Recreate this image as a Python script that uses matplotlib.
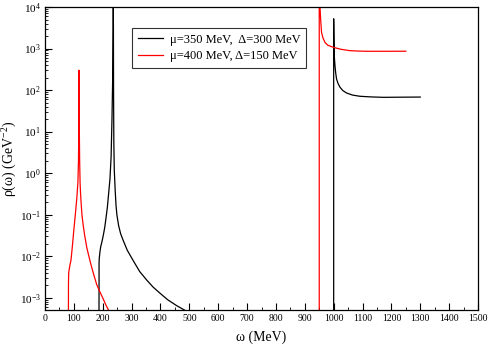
import matplotlib
matplotlib.use("Agg")
import matplotlib.pyplot as plt
from matplotlib.ticker import LogLocator, MultipleLocator, LogFormatterMathtext, NullFormatter
import numpy as np

plt.rcParams['font.family'] = ['Liberation Serif', 'DejaVu Serif']
plt.rcParams['mathtext.fontset'] = 'custom'
plt.rcParams['mathtext.rm'] = 'Liberation Serif'
plt.rcParams['mathtext.it'] = 'Liberation Serif:italic'

#   mu=350 MeV, Delta=300 MeV (black): low branch + threshold branch
w_b1 = [187, 187.3, 188, 190.5, 193, 197, 202, 207, 211, 216, 220, 225, 229, 232,
        234.5, 236, 236.5, 237, 237.5, 238.5, 240, 243, 246, 249, 255, 262, 271, 285,
        305, 328, 352, 375, 398, 425, 456, 485, 500]
r_b1 = [1e-4, 7.0e-3, 9.0e-3, 1.3e-2, 1.7e-2, 2.2e-2, 3.2e-2, 5.0e-2, 8.0e-2, 0.15,
        0.3, 0.72, 2.5, 20, 200, 3000, 3e4, 3000, 100, 5, 1.2, 0.4, 0.17, 0.1, 0.055,
        0.035, 0.024, 0.014, 8.0e-3, 4.3e-3, 2.7e-3, 1.8e-3, 1.3e-3, 9.0e-4, 6.5e-4,
        5.0e-4, 4.0e-4]
w_b2 = [1000, 1000, 1001, 1002, 1004.5, 1007, 1010, 1015, 1022, 1032, 1045, 1065,
        1091, 1130, 1172, 1230, 1300]
r_b2 = [1e-4, 5200, 1500, 680, 390, 260, 185, 145, 117, 97, 85, 76,
        71, 68.5, 67, 67.5, 68]

#   mu=400 MeV, Delta=150 MeV (red)
w_r1 = [81, 81.3, 82, 86, 90, 95, 100, 105, 110, 114, 116, 117, 117.7, 118,
        118.3, 119, 120, 121.5, 123, 125, 128, 132, 138, 145, 152, 160, 169, 179,
        190, 202, 212, 222]
r_r1 = [1e-4, 2.0e-3, 4.0e-3, 6.0e-3, 8.0e-3, 1.8e-2, 4.4e-2, 0.1, 0.24, 0.6, 2,
        10, 100, 300, 100, 10, 2, 0.6, 0.35, 0.2, 0.1, 0.058, 0.03, 0.016, 0.01,
        6.0e-3, 3.6e-3, 2.1e-3, 1.4e-3, 9.3e-4, 6.5e-4, 4.8e-4]
w_r2 = [950, 950, 952, 955, 958, 963, 970, 980, 999, 1025, 1056, 1085, 1114, 1180, 1250]
r_r2 = [1e-4, 2e5, 1.2e4, 4900, 2450, 1800, 1400, 1200, 1070, 960, 890, 870, 860, 860, 862]

labels = ['\u03bc=350 MeV,  \u0394=300 MeV', '\u03bc=400 MeV, \u0394=150 MeV']

fig = plt.figure(figsize=(4.91, 3.53), dpi=100)
ax = fig.add_axes([45/491, 1 - 310/353, 433/491, 303/353])

ax.plot(w_b1, r_b1, color='black', lw=0.9, label=labels[0])
ax.plot(w_b2, r_b2, color='black', lw=0.9)
ax.plot(w_r1, r_r1, color='red', lw=0.9, label=labels[1])
ax.plot(w_r2, r_r2, color='red', lw=0.9)

ax.set_yscale('log')
ax.set_xlim(0, 1500)
ax.set_ylim(5.1e-4, 1e4)
ax.xaxis.set_major_locator(MultipleLocator(100))
ax.xaxis.set_minor_locator(MultipleLocator(50))
ax.yaxis.set_major_locator(LogLocator(base=10, numticks=20))
ax.yaxis.set_minor_locator(LogLocator(base=10, subs=np.arange(2, 10), numticks=20))
ax.yaxis.set_major_formatter(LogFormatterMathtext())
ax.yaxis.set_minor_formatter(NullFormatter())
ax.tick_params(which='both', direction='in', top=False, right=False)
ax.tick_params(which='major', length=5, width=0.8)
ax.tick_params(which='minor', length=2.5, width=0.6)
ax.tick_params(axis='x', labelsize=7, pad=3)
ax.tick_params(axis='y', labelsize=8, pad=3)
for s in ax.spines.values():
    s.set_linewidth(0.9)

ax.set_xlabel('\u03c9 (MeV)', fontsize=10, labelpad=5)
ax.set_ylabel('\u03c1(\u03c9) (GeV$^{-2}$)', fontsize=10)
ax.yaxis.set_label_coords(-0.060, 0.5)

leg = ax.legend(loc='upper left', bbox_to_anchor=(0.201, 0.931), borderaxespad=0,
                fontsize=9, frameon=True, fancybox=False, handlelength=2.0,
                labelspacing=0.35, borderpad=0.45, handletextpad=0.6)
leg.get_frame().set_edgecolor('black')
leg.get_frame().set_linewidth(0.8)

fig.savefig('out.png', dpi=100)
